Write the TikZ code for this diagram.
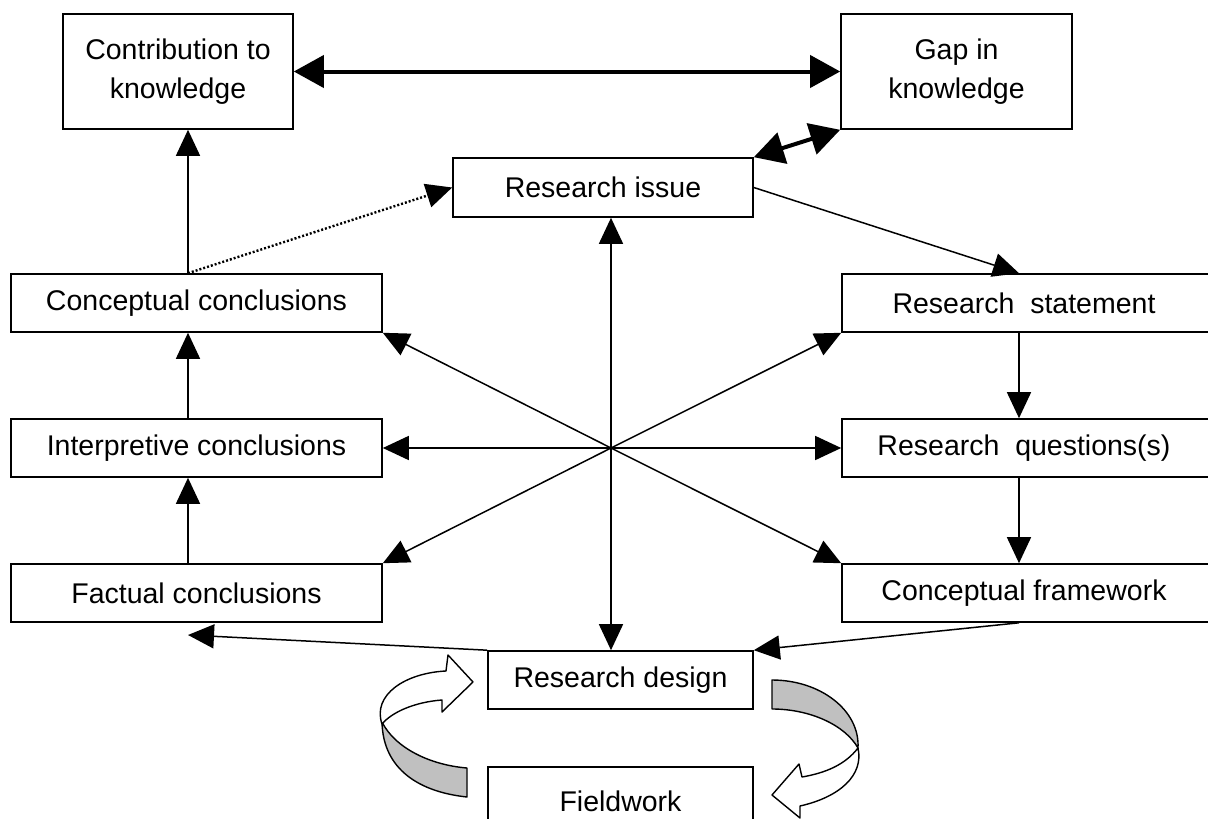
\documentclass[tikz,border=0pt]{standalone}
\usepackage{fontspec}
\setmainfont{Liberation Sans}
\usetikzlibrary{arrows.meta}
\definecolor{bandgray}{RGB}{192,192,192}
\begin{document}
\begin{tikzpicture}[x=1pt,y=-1pt,
  box/.style={draw, line width=1.6pt, inner sep=0pt, align=center,
    font=\fontsize{28.5}{39}\selectfont},
  rbox/.style={box, minimum width=388pt, minimum height=58pt},
  arr/.style={line width=1.5pt, -{Triangle[length=26pt,width=24pt]}},
  bigarr/.style={line width=4pt,
    {Triangle[length=30pt,width=32pt]}-{Triangle[length=30pt,width=32pt]}},
  dotarr/.style={line width=2.4pt, dash pattern=on 2pt off 2pt,
    -{Triangle[length=26pt,width=24pt]}},
  band/.style={draw, line width=1.4pt, line join=round}]
\useasboundingbox (0,0) rectangle (1208,819);
\clip (0,0) rectangle (1208,819);

% boxes
\node[box, minimum width=230pt, minimum height=115pt] (ck) at (178,71.5) {Contribution to\\knowledge};
\node[box, minimum width=231pt, minimum height=115pt] (gk) at (956.5,71.5) {Gap in\\knowledge};
\node[box, minimum width=300pt, minimum height=59pt] (ri) at (603,187.5) {Research issue};
\node[box, minimum width=371pt, minimum height=58pt] (cc) at (196.5,303) {Conceptual conclusions};
\node[box, minimum width=371pt, minimum height=58pt] (ic) at (196.5,448) {Interpretive conclusions};
\node[box, minimum width=371pt, minimum height=58pt] (fc) at (196.5,593) {Factual conclusions};
% right-hand boxes run past the right margin; their text sits left of the box centre
\node[rbox] (rs) at (1036,303) {\hspace*{-24pt}Research~~statement};
\node[rbox] (rq) at (1036,448) {\hspace*{-24pt}Research~~questions(s)};
\node[rbox] (cf) at (1036,593) {\hspace*{-24pt}Conceptual framework};
\node[box, minimum width=265pt, minimum height=58pt] (rd) at (620.5,680) {Research design};
\node[box, minimum width=265pt, minimum height=68pt] (fw) at (620.5,801) {Fieldwork};

% helper coordinates
\coordinate (hub) at (611,448);
\coordinate (colL) at (188,0);
\coordinate (colR) at (1019,0);
\coordinate (ftip) at (188,635);

% thick two-way links
\draw[bigarr] (ck.east) -- (gk.west);
\draw[bigarr] (ri.north east) -- (gk.south west);

% right column
\draw[arr] (ri.east) -- (colR |- rs.north);
\draw[arr] (colR |- rs.south) -- (colR |- rq.north);
\draw[arr] (colR |- rq.south) -- (colR |- cf.north);
\draw[arr] (colR |- cf.south) -- (rd.north east);

% left column
\draw[arr] (rd.north west) -- (ftip);
\draw[arr] (colL |- fc.north) -- (colL |- ic.south);
\draw[arr] (colL |- ic.north) -- (colL |- cc.south);
\draw[arr] (colL |- cc.north) -- (colL |- ck.south);
\draw[dotarr] (colL |- cc.north) -- (ri.west);

% spokes from the hub
\draw[arr] (hub) -- (hub |- ri.south);
\draw[arr] (hub) -- (hub |- rd.north);
\draw[arr] (hub) -- (ic.east);
\draw[arr] (hub) -- (rq.west);
\draw[arr] (hub) -- (cc.south east);
\draw[arr] (hub) -- (rs.south west);
\draw[arr] (hub) -- (fc.north east);
\draw[arr] (hub) -- (cf.north west);

% left loop arrow (fieldwork back to design)
\draw[band, fill=bandgray] (382,722) .. controls (395,748) and (430,765) .. (467,768)
  -- (467,797) .. controls (420,792) and (383,770) .. (382,722) -- cycle;
\draw[band, fill=white] (382,724) .. controls (372,695) and (405,673) .. (446,671)
  -- (448,655) -- (473,682) -- (442,712) -- (442,700)
  .. controls (415,702) and (392,712) .. (382,724) -- cycle;

% right loop arrow (design on to fieldwork)
\draw[band, fill=bandgray] (772,680) .. controls (820,680) and (860,710) .. (858,748)
  .. controls (845,725) and (810,709) .. (772,709) -- cycle;
\draw[band, fill=white] (858,748) .. controls (845,765) and (825,773) .. (802,777)
  -- (799,764) -- (772,795) -- (800,818) -- (800,806)
  .. controls (840,797) and (864,775) .. (858,748) -- cycle;
\end{tikzpicture}
\end{document}
